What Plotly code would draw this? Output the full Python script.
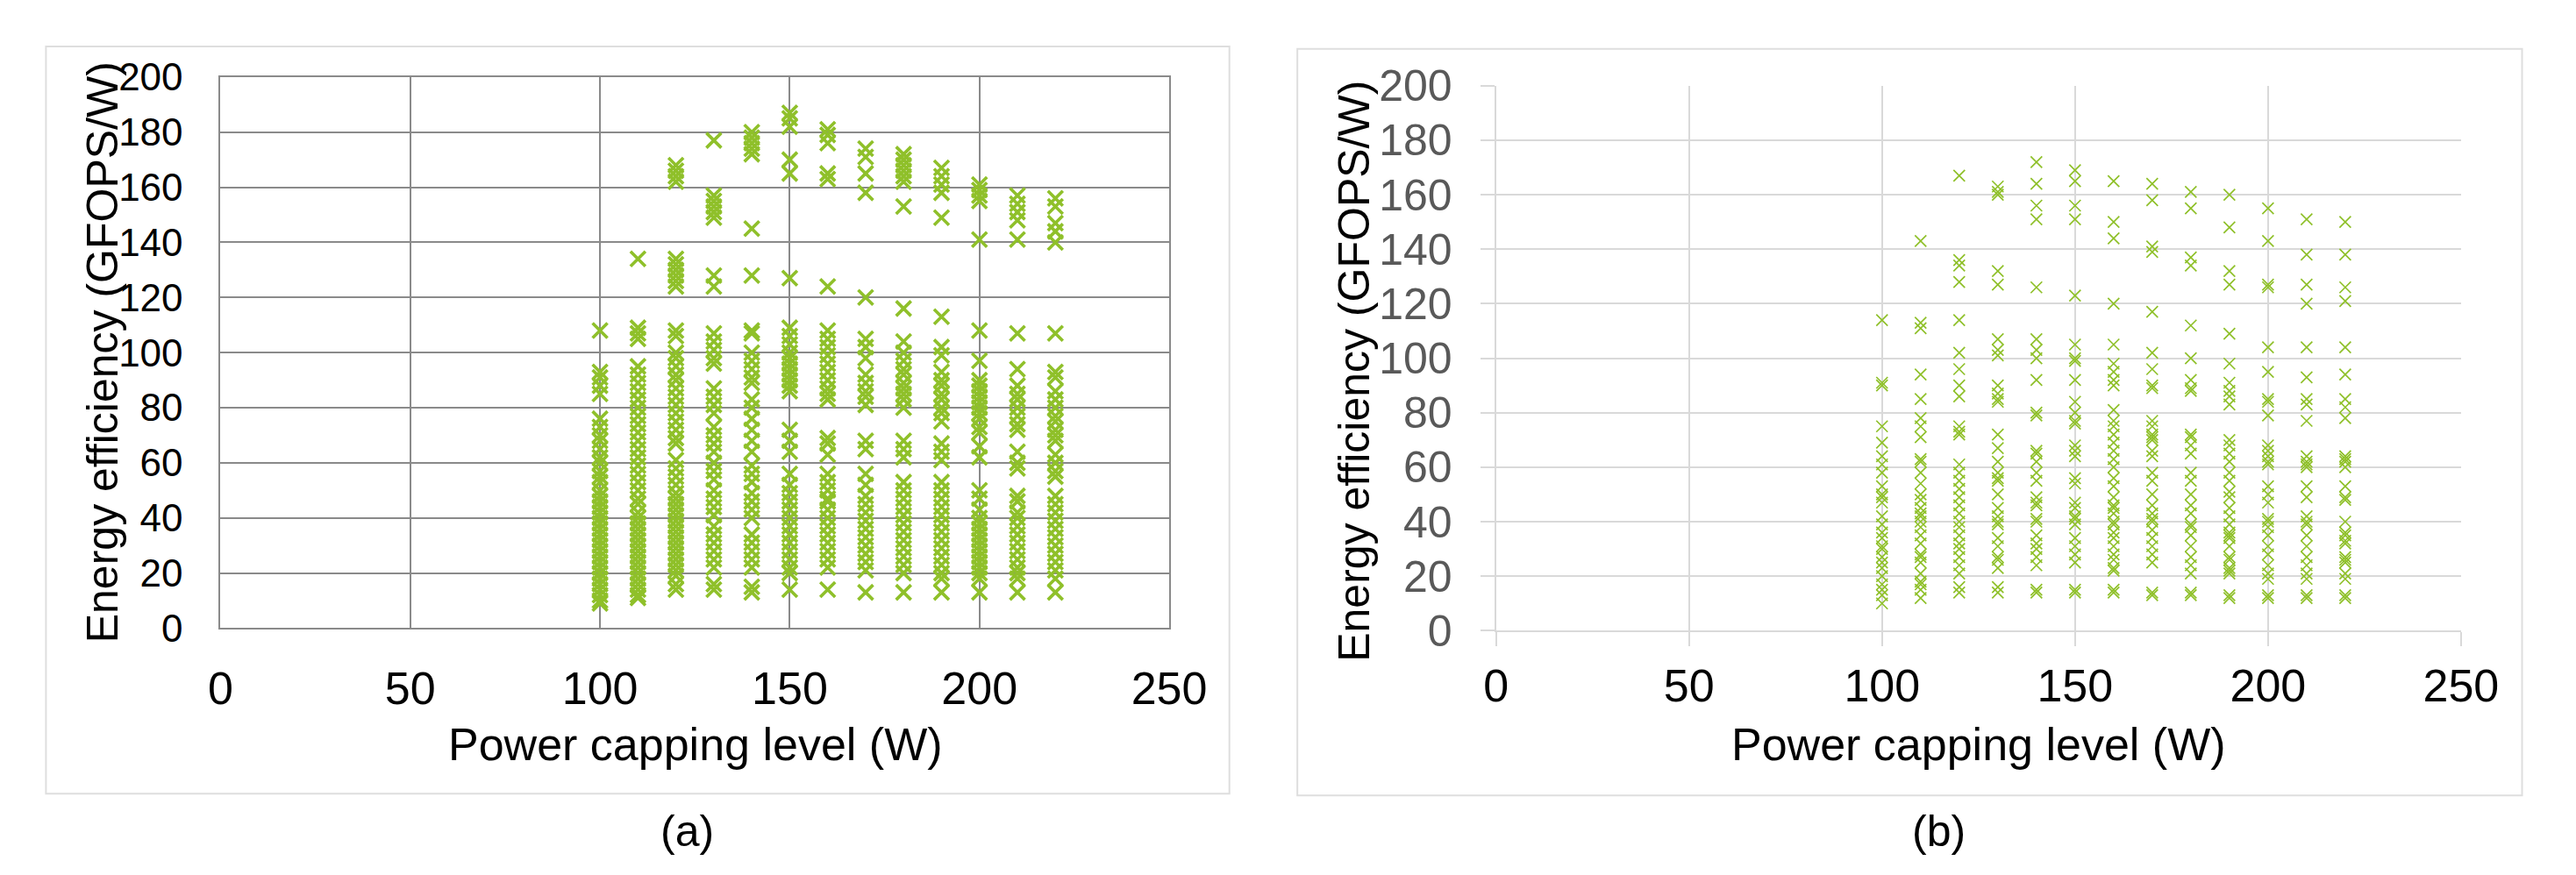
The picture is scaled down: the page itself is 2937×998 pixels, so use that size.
import plotly.graph_objects as go

# ---------------- data: panel (a) ----------------
A_100 = [108, 93, 91, 88, 85, 76, 73, 70, 68, 65, 62, 60, 57, 55, 53, 50, 48, 46, 44, 42, 40, 38, 36, 34,
         32, 30, 28, 26, 24, 22, 20, 18, 16, 14, 12, 10, 9]
A_110 = [134, 109, 107, 105, 95, 92, 89, 86, 83, 80, 77, 74, 71, 68, 65, 62, 59, 56, 53, 50, 47, 45, 42, 40,
         38, 36, 34, 32, 30, 28, 26, 24, 22, 20, 18, 16, 14, 12, 11]
A_120 = [168, 166, 164, 162, 134, 132, 130, 128, 126, 124, 108, 106, 100, 98, 95, 92, 90, 87, 84, 81, 78, 75,
         72, 69, 67, 61, 58, 55, 52, 49, 47, 45, 43, 41, 39, 37, 35, 33, 31, 29, 27, 25, 23, 21, 19, 16, 14]
A_130 = [177, 157, 155, 153, 151, 149, 128, 124, 107, 104, 101, 98, 96, 87, 84, 81, 78, 73, 70, 67, 64, 60,
         57, 54, 50, 47, 44, 41, 37, 34, 31, 28, 25, 22, 16, 14]
A_140 = [180, 178, 176, 174, 172, 145, 128, 108, 107, 100, 97, 94, 91, 89, 83, 80, 76, 72, 68, 64, 59, 56,
         53, 49, 46, 43, 40, 34, 31, 28, 25, 22, 15, 13]
A_150 = [187, 185, 182, 170, 165, 127, 109, 106, 103, 100, 98, 96, 94, 92, 90, 88, 86, 72, 68, 64, 56, 52,
         49, 46, 43, 40, 37, 34, 31, 28, 25, 22, 20, 14]
A_160 = [181, 179, 176, 165, 163, 124, 108, 105, 102, 99, 96, 93, 90, 87, 85, 83, 69, 67, 63, 56, 53, 50,
         47, 46, 43, 40, 37, 34, 31, 28, 25, 22, 14]
A_170 = [174, 171, 165, 158, 120, 105, 102, 98, 92, 89, 86, 84, 81, 68, 65, 56, 52, 48, 45, 42, 39, 36, 33,
         30, 27, 24, 21, 13]
A_180 = [172, 170, 168, 166, 164, 162, 153, 116, 104, 100, 97, 94, 92, 89, 87, 85, 83, 80, 68, 65, 62, 53,
         50, 47, 44, 41, 38, 35, 32, 29, 26, 23, 20, 13]
A_190 = [167, 164, 161, 158, 149, 113, 102, 99, 93, 90, 88, 85, 83, 80, 78, 75, 67, 64, 61, 53, 50, 47, 44,
         41, 38, 35, 32, 29, 26, 23, 20, 18, 13]
A_200 = [161, 159, 157, 155, 141, 108, 97, 90, 88, 86, 84, 82, 80, 78, 76, 73, 71, 66, 62, 50, 47, 43, 40,
         38, 36, 34, 32, 30, 28, 26, 24, 22, 20, 18, 13]
A_210 = [157, 154, 151, 148, 141, 107, 94, 88, 85, 83, 80, 77, 74, 72, 64, 60, 58, 48, 46, 42, 40, 37, 34,
         31, 28, 25, 22, 20, 18, 13]
A_220 = [156, 153, 147, 144, 140, 107, 93, 91, 86, 83, 80, 77, 75, 72, 70, 68, 63, 60, 57, 55, 48, 45, 42,
         39, 36, 33, 30, 27, 24, 21, 18, 13]

# ---------------- data: panel (b) ----------------
B_100 = [114, 91, 90, 75, 69, 64, 61, 58, 53, 50, 49, 47, 42, 39, 36, 34, 31, 30, 27, 25, 23, 20, 17, 15, 13, 10]
B_110 = [143, 113, 111, 94, 85, 78, 75, 71, 63, 62, 58, 54, 50, 48, 45, 43, 42, 40, 38, 35, 32, 28, 27, 25,
         21, 18, 17, 15, 12]
B_120 = [167, 136, 134, 128, 114, 102, 96, 90, 86, 75, 73, 72, 61, 58, 55, 52, 49, 46, 43, 40, 38, 35, 32,
         30, 27, 24, 21, 16, 14]
B_130 = [163, 161, 160, 132, 127, 107, 103, 101, 90, 87, 85, 84, 72, 67, 62, 58, 56, 55, 50, 45, 42, 40, 39,
         34, 31, 27, 26, 23, 16, 14]
B_140 = [172, 164, 156, 151, 126, 107, 103, 100, 92, 80, 79, 66, 65, 62, 58, 55, 49, 47, 46, 41, 40, 35, 32,
         30, 27, 24, 15, 14]
B_150 = [169, 165, 156, 151, 123, 105, 100, 99, 92, 84, 80, 77, 76, 68, 66, 64, 56, 54, 47, 45, 42, 41, 39,
         34, 31, 28, 25, 15, 14]
B_160 = [165, 150, 144, 120, 105, 98, 95, 92, 90, 81, 77, 75, 72, 69, 66, 63, 60, 56, 53, 49, 46, 45, 43, 40,
         39, 36, 34, 31, 28, 26, 23, 22, 15, 14]
B_170 = [164, 158, 141, 139, 117, 102, 96, 90, 89, 77, 75, 72, 71, 70, 66, 64, 58, 55, 50, 46, 43, 41, 40,
         37, 34, 31, 28, 25, 14, 13]
B_180 = [161, 155, 137, 134, 112, 100, 92, 89, 88, 72, 71, 68, 65, 58, 55, 50, 46, 43, 39, 38, 35, 31, 27,
         24, 21, 14, 13]
B_190 = [160, 148, 132, 127, 109, 98, 91, 88, 86, 83, 70, 68, 65, 62, 58, 55, 51, 49, 45, 42, 39, 36, 35,
         34, 31, 27, 26, 23, 22, 21, 13, 12]
B_200 = [155, 143, 127, 126, 104, 95, 85, 84, 79, 68, 66, 64, 62, 61, 53, 50, 47, 41, 40, 38, 35, 31, 28,
         24, 21, 19, 13, 12]
B_210 = [151, 138, 127, 120, 104, 93, 85, 83, 77, 64, 62, 61, 60, 53, 49, 42, 40, 39, 35, 31, 27, 24, 21,
         19, 13, 12]
B_220 = [150, 138, 126, 121, 104, 94, 85, 82, 78, 64, 63, 62, 60, 53, 49, 48, 40, 36, 35, 33, 32, 27, 26,
         25, 21, 19, 13, 12]

POWER_LEVELS = [100, 110, 120, 130, 140, 150, 160, 170, 180, 190, 200, 210, 220]
A_COLUMNS = [A_100, A_110, A_120, A_130, A_140, A_150, A_160, A_170, A_180, A_190, A_200, A_210, A_220]
B_COLUMNS = [B_100, B_110, B_120, B_130, B_140, B_150, B_160, B_170, B_180, B_190, B_200, B_210, B_220]

X_TICKS = [0, 50, 100, 150, 200, 250]
Y_TICKS = [0, 20, 40, 60, 80, 100, 120, 140, 160, 180, 200]

X_TITLE = "Power capping level (W)"
Y_TITLE = "Energy efficiency (GFOPS/W)"


def flatten(levels, columns):
    xs, ys = [], []
    for lv, col in zip(levels, columns):
        xs.extend([lv] * len(col))
        ys.extend(col)
    return xs, ys


ax, ay = flatten(POWER_LEVELS, A_COLUMNS)
bx, by = flatten(POWER_LEVELS, B_COLUMNS)

W, H = 2937, 998
GREEN = "#8FC02A"
FONT = "Liberation Sans, Arial, sans-serif"


def px(v):
    return v / W


def py(v):
    return 1 - v / H


fig = go.Figure()
fig.add_trace(go.Scatter(
    x=ax, y=ay, mode="markers", xaxis="x", yaxis="y", showlegend=False,
    marker=dict(symbol="x-thin", size=17, color=GREEN, line=dict(color=GREEN, width=3.6)),
))
fig.add_trace(go.Scatter(
    x=bx, y=by, mode="markers", xaxis="x2", yaxis="y2", showlegend=False,
    marker=dict(symbol="x-thin", size=13, color=GREEN, line=dict(color=GREEN, width=1.7)),
))

GRID_A = "#8a8a8a"
GRID_B = "#d9d9d9"

fig.update_layout(
    width=W, height=H,
    margin=dict(l=0, r=0, t=0, b=0),
    paper_bgcolor="white", plot_bgcolor="white",
    font=dict(family=FONT, color="black"),
    xaxis=dict(
        domain=[px(234), px(1337)], range=[0, 250], tickvals=X_TICKS,
        showgrid=True, gridcolor=GRID_A, gridwidth=2.2,
        showline=True, mirror=True, linecolor=GRID_A, linewidth=2.2,
        zeroline=False, ticks="outside", ticklen=22, tickcolor="rgba(0,0,0,0)",
        tickfont=dict(size=52, color="black", family=FONT), anchor="y",
    ),
    yaxis=dict(
        domain=[py(722), py(56)], range=[0, 200], tickvals=Y_TICKS,
        showgrid=True, gridcolor=GRID_A, gridwidth=2.2,
        showline=True, mirror=True, linecolor=GRID_A, linewidth=2.2,
        zeroline=False, ticks="outside", ticklen=32, tickcolor="rgba(0,0,0,0)",
        tickfont=dict(size=44, color="black", family=FONT), anchor="x",
    ),
    xaxis2=dict(
        domain=[px(1717), px(2839)], range=[0, 250], tickvals=X_TICKS,
        showgrid=True, gridcolor=GRID_B, gridwidth=2,
        showline=True, mirror=False, linecolor=GRID_B, linewidth=2,
        zeroline=False, ticks="outside", ticklen=16, tickwidth=2, tickcolor=GRID_B,
        tickfont=dict(size=52, color="black", family=FONT), anchor="y2",
    ),
    yaxis2=dict(
        domain=[py(725), py(66.5)], range=[0, 200], tickvals=Y_TICKS,
        showgrid=True, gridcolor=GRID_B, gridwidth=2,
        showline=True, mirror=False, linecolor=GRID_B, linewidth=2,
        zeroline=False, ticks="outside", ticklen=16, tickwidth=2, tickcolor=GRID_B,
        ticklabelstandoff=22,
        tickfont=dict(size=50, color="#595959", family=FONT), anchor="x2",
    ),
    shapes=[
        dict(type="rect", xref="paper", yref="paper", x0=px(31), x1=px(1407), y0=py(922), y1=py(19),
             line=dict(color="#dedede", width=2), layer="below"),
        dict(type="rect", xref="paper", yref="paper", x0=px(1486), x1=px(2910), y0=py(924), y1=py(22),
             line=dict(color="#dedede", width=2), layer="below"),
    ],
    annotations=[
        dict(text=X_TITLE, x=px(786), y=py(862), xref="paper", yref="paper", showarrow=False,
             xanchor="center", yanchor="middle", font=dict(size=52, color="black", family=FONT)),
        dict(text=Y_TITLE, x=px(97), y=py(389), xref="paper", yref="paper", showarrow=False,
             textangle=-90, xanchor="center", yanchor="middle",
             font=dict(size=50, color="black", family=FONT)),
        dict(text=X_TITLE, x=px(2278), y=py(862), xref="paper", yref="paper", showarrow=False,
             xanchor="center", yanchor="middle", font=dict(size=52, color="black", family=FONT)),
        dict(text=Y_TITLE, x=px(1552), y=py(411), xref="paper", yref="paper", showarrow=False,
             textangle=-90, xanchor="center", yanchor="middle",
             font=dict(size=50, color="black", family=FONT)),
        dict(text="(a)", x=px(777), y=py(967), xref="paper", yref="paper", showarrow=False,
             xanchor="center", yanchor="middle", font=dict(size=50, color="black", family=FONT)),
        dict(text="(b)", x=px(2232), y=py(967), xref="paper", yref="paper", showarrow=False,
             xanchor="center", yanchor="middle", font=dict(size=50, color="black", family=FONT)),
    ],
)

fig.write_html("out.html")
